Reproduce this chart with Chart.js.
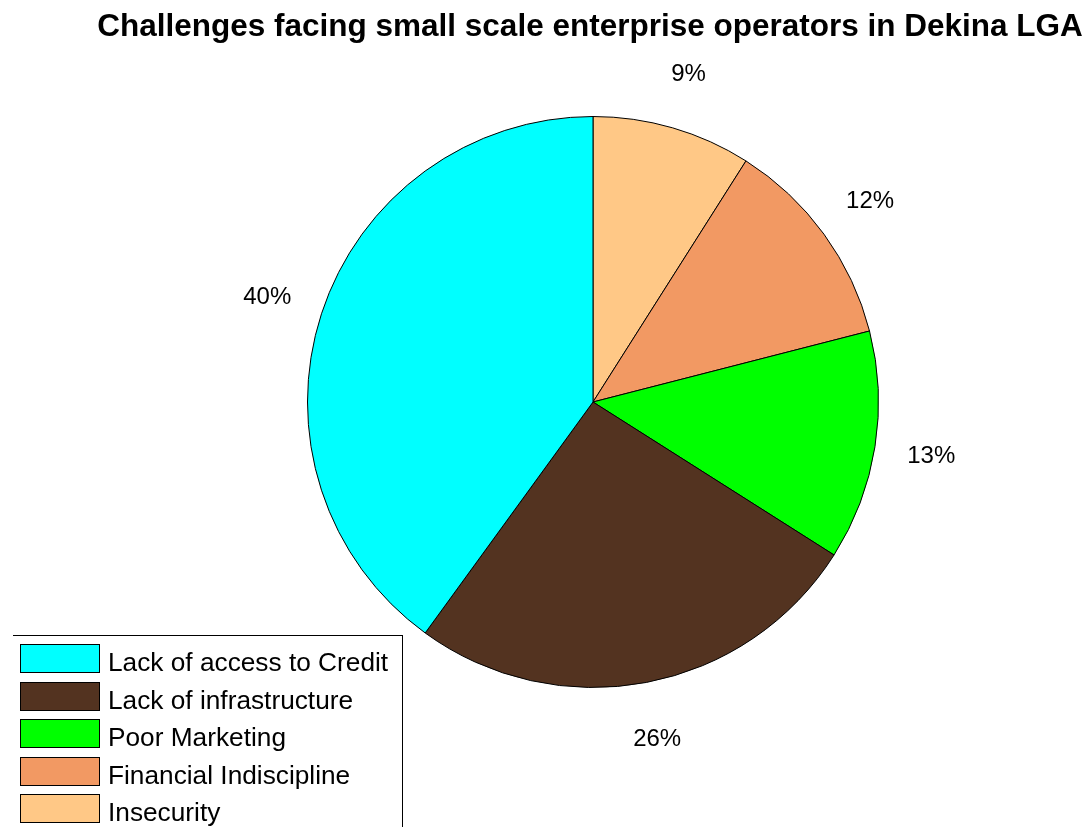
<!DOCTYPE html>
<html>
<head>
<meta charset="utf-8">
<script src="https://cdn.jsdelivr.net/npm/chart.js@4"></script>
<style>
  html, body { margin: 0; padding: 0; background: #fff; }
  #wrap { position: relative; width: 1088px; height: 827px; overflow: hidden; font-family: "Liberation Sans", Arial, sans-serif; }
  #chart { position: absolute; left: 0; top: 0; }
  #title { position: absolute; left: 90px; width: 1000px; top: 10px; text-align: center; font-weight: bold; font-size: 31.5px; line-height: 31.5px; color: #000; white-space: nowrap; }
  #legend { position: absolute; left: 13px; top: 635px; width: 390px; height: 200px; border-top: 1.5px solid #000; border-right: 1.5px solid #000; box-sizing: border-box; }
  .swatch { position: absolute; left: 7px; width: 80px; height: 29px; border: 1px solid #000; box-sizing: border-box; }
  .label { position: absolute; left: 95px; font-size: 25px; line-height: 25px; color: #000; white-space: nowrap; transform: scaleX(1.05); transform-origin: 0 0; }
</style>
</head>
<body>
<div id="wrap">
  <canvas id="chart" width="1088" height="827"></canvas>
  <div id="title"></div>
  <div id="legend"></div>
</div>
<script>
// Slices in drawing order, clockwise from 12 o'clock
const categories = ['Insecurity', 'Financial Indiscipline', 'Poor Marketing', 'Lack of infrastructure', 'Lack of access to Credit'];
const shares = [9, 12, 13, 26, 40];
const sliceColors = ['#FFC886', '#F29963', '#00FF00', '#533320', '#00FFFF'];
const titleText = 'Challenges facing small scale enterprise operators in Dekina LGA';

document.getElementById('title').textContent = titleText;

// Legend lists the slices in reverse drawing order
const legendEl = document.getElementById('legend');
const rowStep = 37.5;
categories.slice().reverse().forEach((name, i) => {
  const idx = categories.length - 1 - i;
  const top = 8 + i * rowStep;
  const sw = document.createElement('div');
  sw.className = 'swatch';
  sw.style.top = top + 'px';
  sw.style.background = sliceColors[idx];
  const lb = document.createElement('div');
  lb.className = 'label';
  lb.style.top = (top + 6) + 'px';
  lb.textContent = name;
  legendEl.appendChild(sw);
  legendEl.appendChild(lb);
});

// Percentage labels placed just outside each slice
const outsideLabels = {
  id: 'outsideLabels',
  afterDatasetsDraw(chart) {
    const ctx = chart.ctx;
    const meta = chart.getDatasetMeta(0);
    ctx.save();
    ctx.font = '24px "Liberation Sans", Arial, sans-serif';
    ctx.fillStyle = '#000';
    ctx.textAlign = 'center';
    ctx.textBaseline = 'middle';
    meta.data.forEach((arc, i) => {
      const p = arc.getProps(['x', 'y', 'startAngle', 'endAngle', 'outerRadius'], true);
      const mid = (p.startAngle + p.endAngle) / 2;
      const r = p.outerRadius + 57;
      ctx.fillText(shares[i] + '%', p.x + Math.cos(mid) * r, p.y + Math.sin(mid) * r + 1);
    });
    ctx.restore();
  }
};

new Chart(document.getElementById('chart'), {
  type: 'pie',
  data: {
    labels: categories,
    datasets: [{
      data: shares,
      backgroundColor: sliceColors,
      borderColor: '#000',
      borderWidth: 1
    }]
  },
  options: {
    responsive: false,
    animation: false,
    layout: { padding: { left: 307, right: 209, top: 116, bottom: 139 } },
    plugins: {
      legend: { display: false },
      title: { display: false },
      tooltip: { enabled: false }
    }
  },
  plugins: [outsideLabels]
});
</script>
</body>
</html>
